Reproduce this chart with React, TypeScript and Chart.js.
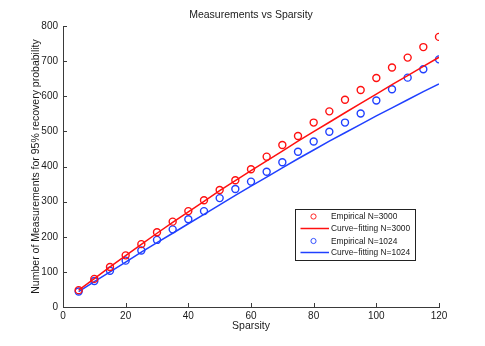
import React, { useEffect, useRef } from "react";
import { Chart, registerables } from "chart.js";

Chart.register(...registerables);

const sparsity = [5, 10, 15, 20, 25, 30, 35, 40, 45, 50, 55, 60, 65, 70, 75, 80, 85, 90, 95, 100, 105, 110, 115, 120];
const empirical3000 = [48, 80, 114, 147, 179, 213, 243, 273, 304, 333, 361, 392, 428, 461, 487, 525, 557, 590, 618, 652, 682, 710, 740, 769];
const fit3000 = [48, 81, 114, 146, 178, 210, 241, 271, 301, 331, 360, 388, 416, 444, 472, 499, 526, 553, 580, 606, 633, 659, 685, 711];
const empirical1024 = [44, 74, 103, 132, 161, 191, 221, 250, 273, 310, 336, 357, 385, 412, 442, 471, 499, 525, 551, 588, 620, 653, 677, 705];
const fit1024 = [44, 72, 100, 128, 156, 183, 210, 237, 264, 291, 318, 344, 370, 396, 422, 447, 472, 496, 520, 544, 567, 590, 613, 635];

const xTicks = [0, 20, 40, 60, 80, 100, 120];
const yTicks = [0, 100, 200, 300, 400, 500, 600, 700, 800];

const titleText = "Measurements vs Sparsity";
const xTitle = "Sparsity";
const yTitle = "Number of Measurements for 95% recovery probability";
const legendLabels = ["Empirical N=3000", "Curve\u2212fitting N=3000", "Empirical N=1024", "Curve\u2212fitting N=1024"];

const RED = "#ff1010";
const BLUE = "#2040ff";
const AXIS = "#3a3a3a";
const FONT = "'Liberation Sans', Arial, sans-serif";

const toPts = (ys: number[]) => sparsity.map((x, i) => ({ x, y: ys[i] }));

const decorPlugin = {
  id: "decor",
  afterDraw(chart: any) {
    const { ctx, chartArea } = chart;
    const { left, right, top, bottom } = chartArea;
    const xs = chart.scales.x;
    const ys = chart.scales.y;
    ctx.save();
    // inward ticks
    ctx.strokeStyle = AXIS;
    ctx.lineWidth = 1;
    ctx.beginPath();
    xTicks.forEach((v) => {
      const px = Math.round(xs.getPixelForValue(v)) + 0.5;
      ctx.moveTo(px, bottom);
      ctx.lineTo(px, bottom - 4);
    });
    yTicks.forEach((v) => {
      const py = Math.round(ys.getPixelForValue(v)) + 0.5;
      ctx.moveTo(left, py);
      ctx.lineTo(left + 4, py);
    });
    ctx.stroke();

    // titles
    ctx.fillStyle = "#1a1a1a";
    ctx.textAlign = "center";
    ctx.textBaseline = "middle";
    ctx.font = `10.5px ${FONT}`;
    const cx = (left + right) / 2;
    ctx.fillText(titleText, cx, 15.5);
    ctx.fillText(xTitle, cx, 326.5);
    ctx.save();
    ctx.translate(36.5, (top + bottom) / 2);
    ctx.rotate(-Math.PI / 2);
    ctx.fillText(yTitle, 0, 0);
    ctx.restore();

    // legend
    const bx = 295.5;
    const by = 209.5;
    const bw = 120;
    const bh = 51;
    ctx.fillStyle = "#fff";
    ctx.fillRect(bx, by, bw, bh);
    ctx.strokeStyle = "#222";
    ctx.lineWidth = 1;
    ctx.strokeRect(bx, by, bw, bh);
    const rows = [216.5, 228.5, 241, 252.5];
    const colors = [RED, RED, BLUE, BLUE];
    ctx.font = `8.4px ${FONT}`;
    ctx.textAlign = "left";
    rows.forEach((ry, i) => {
      ctx.strokeStyle = colors[i];
      if (i % 2 === 0) {
        ctx.lineWidth = 0.9;
        ctx.beginPath();
        ctx.arc(313.5, ry, 2.6, 0, Math.PI * 2);
        ctx.stroke();
      } else {
        ctx.lineWidth = 1.5;
        ctx.beginPath();
        ctx.moveTo(300.5, ry);
        ctx.lineTo(329, ry);
        ctx.stroke();
      }
      ctx.fillStyle = "#1a1a1a";
      ctx.fillText(legendLabels[i], 331, ry + 0.5);
    });
    ctx.restore();
  },
};

export default function App() {
  const ref = useRef<HTMLCanvasElement>(null);
  useEffect(() => {
    if (!ref.current) return;
    const chart = new Chart(ref.current, {
      type: "scatter",
      data: {
        datasets: [
          {
            label: legendLabels[0],
            data: toPts(empirical3000),
            showLine: false,
            pointStyle: "circle",
            pointRadius: 3.5,
            pointBorderWidth: 1.4,
            pointBackgroundColor: "rgba(0,0,0,0)",
            borderColor: RED,
            backgroundColor: "rgba(0,0,0,0)",
          },
          {
            label: legendLabels[1],
            data: toPts(fit3000),
            showLine: true,
            pointRadius: 0,
            borderWidth: 1.5,
            borderColor: RED,
            tension: 0,
          },
          {
            label: legendLabels[2],
            data: toPts(empirical1024),
            showLine: false,
            pointStyle: "circle",
            pointRadius: 3.5,
            pointBorderWidth: 1.4,
            pointBackgroundColor: "rgba(0,0,0,0)",
            borderColor: BLUE,
            backgroundColor: "rgba(0,0,0,0)",
          },
          {
            label: legendLabels[3],
            data: toPts(fit1024),
            showLine: true,
            pointRadius: 0,
            borderWidth: 1.5,
            borderColor: BLUE,
            tension: 0,
          },
        ],
      },
      options: {
        responsive: false,
        animation: false,
        events: [],
        layout: { padding: { left: 0, right: 46, top: 26, bottom: 0 } },
        plugins: {
          legend: { display: false },
          title: { display: false },
          tooltip: { enabled: false },
        },
        scales: {
          x: {
            type: "linear",
            min: 0,
            max: 120,
            afterBuildTicks: (s: any) => {
              s.ticks = xTicks.map((v) => ({ value: v }));
            },
            afterFit: (s: any) => {
              s.height = 39;
            },
            grid: { display: false, drawTicks: false },
            border: { display: true, color: AXIS, width: 1 },
            ticks: { color: "#1a1a1a", font: { family: FONT, size: 10 }, padding: 3, maxRotation: 0 },
          },
          y: {
            type: "linear",
            min: 0,
            max: 800,
            afterBuildTicks: (s: any) => {
              s.ticks = yTicks.map((v) => ({ value: v }));
            },
            afterFit: (s: any) => {
              s.width = 63;
            },
            grid: { display: false, drawTicks: false },
            border: { display: true, color: AXIS, width: 1 },
            ticks: { color: "#1a1a1a", font: { family: FONT, size: 10 }, padding: 5 },
          },
        },
      },
      plugins: [decorPlugin],
    });
    return () => chart.destroy();
  }, []);
  return (
    <div style={{ position: "fixed", left: 0, top: 0, width: 485, height: 346, background: "#fff" }}>
      <canvas ref={ref} width={485} height={346} style={{ display: "block" }} />
    </div>
  );
}
